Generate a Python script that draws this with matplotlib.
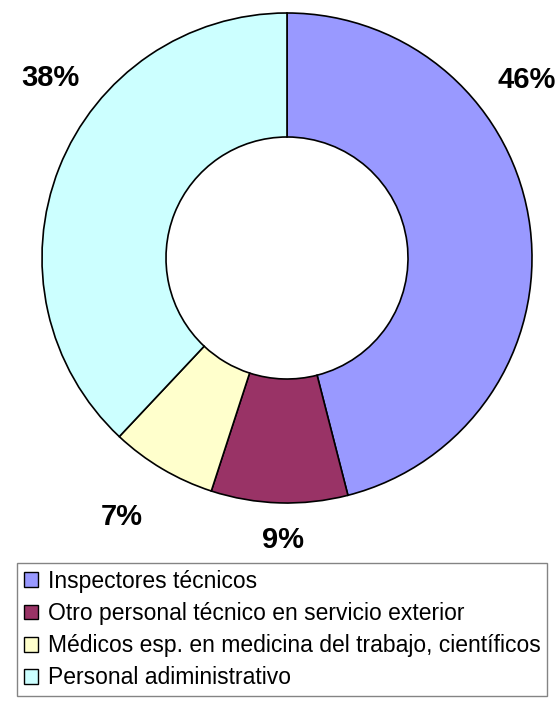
import matplotlib
matplotlib.use("Agg")
import matplotlib.pyplot as plt

plt.rcParams["font.family"] = ["Liberation Sans", "DejaVu Sans"]

categories = [
    "Inspectores técnicos",
    "Otro personal técnico en servicio exterior",
    "Médicos esp. en medicina del trabajo, científicos",
    "Personal adiministrativo",
]
shares = [46, 9, 7, 38]
colors = ["#9999FF", "#993366", "#FFFFCC", "#CCFFFF"]
pct_labels = ["46%", "9%", "7%", "38%"]
# label anchor points in pixel space (x from left, y from top)
label_px = [(527, 80), (283, 540), (122, 517), (50, 78)]

W, H = 557, 704
fig = plt.figure(figsize=(W / 100, H / 100), dpi=100)
ax = fig.add_axes([0, 0, 1, 1])

wedges, _ = ax.pie(
    shares,
    colors=colors,
    startangle=90,
    counterclock=False,
    center=(287, H - 258),
    radius=245,
    wedgeprops=dict(width=124, edgecolor="black", linewidth=1.2),
    frame=True,
)
ax.set_xlim(0, W)
ax.set_ylim(0, H)
ax.set_aspect("equal")
ax.axis("off")

for txt, (px, py) in zip(pct_labels, label_px):
    ax.text(px, H - py, txt, ha="center", va="center",
            fontsize=21, fontweight="bold", color="black")

leg = fig.legend(
    wedges, categories,
    loc="upper left",
    bbox_to_anchor=(17 / W, 1 - 563 / H),
    fontsize=16.5,
    frameon=True,
    fancybox=False,
    edgecolor="#666666",
    handlelength=0.62,
    handleheight=0.62,
    handletextpad=0.42,
    labelspacing=0.4,
    borderpad=0.3,
    borderaxespad=0,
)
leg.get_frame().set_linewidth(1.0)
for h in leg.legend_handles:
    h.set_linewidth(1.0)

fig.savefig("out.png", dpi=100)
